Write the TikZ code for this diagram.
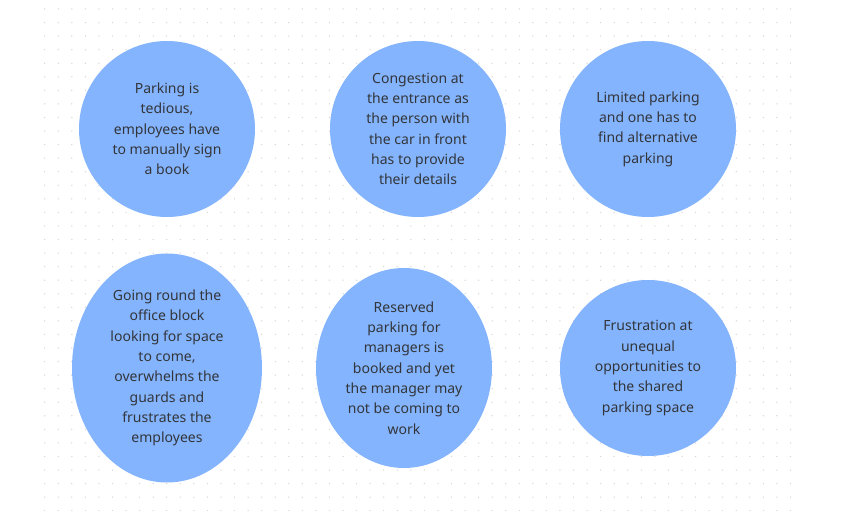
\documentclass[tikz,border=0pt]{standalone}
\usepackage{fontspec}
\setmainfont{Noto Sans}
\usetikzlibrary{shapes.geometric}
\definecolor{bubblefill}{HTML}{83B4FD}
\definecolor{inktext}{HTML}{33353A}
\definecolor{griddot}{HTML}{D6D6D6}

\begin{document}
\begin{tikzpicture}[x=1pt, y=-1pt,
    bubble/.style={ellipse, fill=bubblefill, inner sep=0pt, align=center, text=inktext, font=\fontsize{14}{20.3}\selectfont},
    round/.style={bubble, minimum width=176pt, minimum height=176pt},
    dot/.style={fill=griddot}
]
\useasboundingbox (0,0) rectangle (852,511);

% Dot grid
\foreach \i in {0,...,55}
  \foreach \j in {0,...,37}
    \fill[dot] (44.7+\i*13.56, 9+\j*13.56) circle (0.75);

% Top row
\node[round] (tedious) at (167,129) {Parking is\\tedious,\\employees have\\to manually sign\\a book};
\node[round] (congestion) at (418,129) {Congestion at\\the entrance as\\the person with\\the car in front\\has to provide\\their details};
\node[round] (limited) at (648,129) {Limited parking\\and one has to\\find alternative\\parking};

% Bottom row
\node[bubble, minimum width=190pt, minimum height=229pt] (roundblock) at (167,368) {Going round the\\office block\\looking for space\\to come,\\overwhelms the\\guards and\\frustrates the\\employees};
\node[bubble, minimum width=176pt, minimum height=200pt] (reserved) at (404,368) {Reserved\\parking for\\managers is\\booked and yet\\the manager may\\not be coming to\\work};
\node[round] (frustration) at (648,368) {Frustration at\\unequal\\opportunities to\\the shared\\parking space};
\end{tikzpicture}
\end{document}
